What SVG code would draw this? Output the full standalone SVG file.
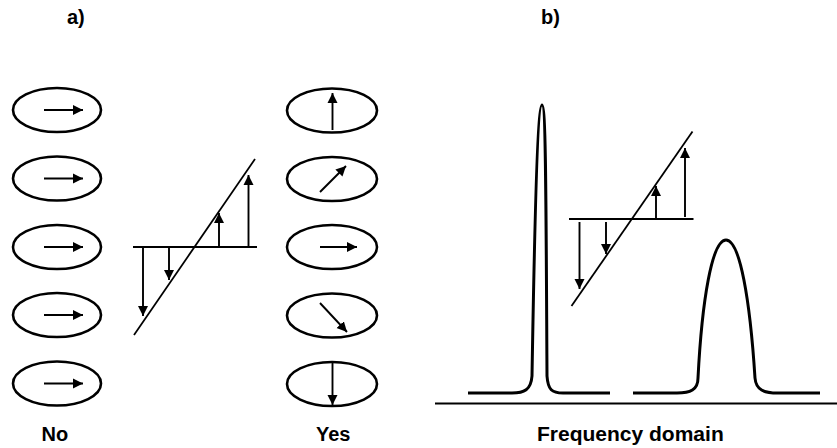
<svg xmlns="http://www.w3.org/2000/svg" width="837" height="448" viewBox="0 0 837 448">
<style>
.ell{fill:none;stroke:#000;stroke-width:2.6}
.vec{fill:none;stroke:#000;stroke-width:1.9}
.thin{fill:none;stroke:#000;stroke-width:1.8}
.peak{fill:none;stroke:#000;stroke-width:3;stroke-linejoin:round;stroke-linecap:butt}
.lbl{font-family:"Liberation Sans",Arial,sans-serif;font-weight:bold;font-size:20px;fill:#000}
</style>
<defs>
<marker id="ah" viewBox="0 0 10 10" refX="10" refY="5" markerWidth="10" markerHeight="11" markerUnits="userSpaceOnUse" orient="auto">
<path d="M0,0 L10,5 L0,10 z" fill="#000"/>
</marker>
</defs>
<rect width="837" height="448" fill="#fff"/>
<text class="lbl" x="67" y="24">a)</text>
<text class="lbl" x="541" y="24">b)</text>

<g id="no-spins">
<g id="no1"><ellipse class="ell" cx="57" cy="110" rx="44" ry="22"/><line class="vec" x1="44" y1="110" x2="83" y2="110" marker-end="url(#ah)"/></g>
<g id="no2"><ellipse class="ell" cx="57" cy="178.5" rx="44" ry="22"/><line class="vec" x1="44" y1="178.5" x2="83" y2="178.5" marker-end="url(#ah)"/></g>
<g id="no3"><ellipse class="ell" cx="57" cy="247" rx="44" ry="22"/><line class="vec" x1="44" y1="247" x2="83" y2="247" marker-end="url(#ah)"/></g>
<g id="no4"><ellipse class="ell" cx="57" cy="315" rx="44" ry="22"/><line class="vec" x1="44" y1="315" x2="83" y2="315" marker-end="url(#ah)"/></g>
<g id="no5"><ellipse class="ell" cx="57" cy="383.5" rx="44" ry="22"/><line class="vec" x1="44" y1="383.5" x2="83" y2="383.5" marker-end="url(#ah)"/></g>
</g>

<g id="gradient-a">
<line class="thin" x1="133" y1="247" x2="257" y2="247"/>
<line class="thin" x1="134" y1="335" x2="255" y2="159"/>
<line class="vec" x1="143" y1="247" x2="143" y2="316" marker-end="url(#ah)"/>
<line class="vec" x1="169" y1="247" x2="169" y2="280" marker-end="url(#ah)"/>
<line class="vec" x1="219" y1="247" x2="219" y2="213" marker-end="url(#ah)"/>
<line class="vec" x1="248.5" y1="247" x2="248.5" y2="175" marker-end="url(#ah)"/>
</g>

<g id="yes-spins">
<g id="yes1"><ellipse class="ell" cx="332" cy="110.5" rx="45" ry="22"/><line class="vec" x1="332.5" y1="130" x2="332.5" y2="93" marker-end="url(#ah)"/></g>
<g id="yes2"><ellipse class="ell" cx="332" cy="179" rx="45" ry="22"/><line class="vec" x1="320" y1="192" x2="346" y2="166" marker-end="url(#ah)"/></g>
<g id="yes3"><ellipse class="ell" cx="332" cy="247" rx="45" ry="22"/><line class="vec" x1="320" y1="247" x2="357" y2="247" marker-end="url(#ah)"/></g>
<g id="yes4"><ellipse class="ell" cx="332" cy="315.5" rx="45" ry="22"/><line class="vec" x1="320" y1="303" x2="347" y2="332" marker-end="url(#ah)"/></g>
<g id="yes5"><ellipse class="ell" cx="332" cy="384" rx="45" ry="22"/><line class="vec" x1="332.5" y1="362" x2="332.5" y2="405" marker-end="url(#ah)"/></g>
</g>

<g id="spectrum">
<line x1="435" y1="403.5" x2="837" y2="403.5" stroke="#000" stroke-width="1.8"/>
<path class="peak" d="M468,393 L512,393 C524,393 531,390 532,376 C535,200 538,105 542,105 C546,105 546,200 547,376 C548,390 552,393 563,393 L610,393"/>
<path class="peak" d="M633,393 L677,393 C690,393 698,390 698,378 C702,300 712,240 726,240 C740,240 750,300 755,378 C756,390 764,393 778,393 L820,393"/>
</g>

<g id="gradient-b">
<line class="thin" x1="569" y1="219" x2="693.5" y2="219"/>
<line class="thin" x1="571.5" y1="306" x2="692.5" y2="131.5"/>
<line class="vec" x1="579.5" y1="222" x2="579.5" y2="289" marker-end="url(#ah)"/>
<line class="vec" x1="606" y1="222" x2="606" y2="254" marker-end="url(#ah)"/>
<line class="vec" x1="656" y1="219" x2="656" y2="186" marker-end="url(#ah)"/>
<line class="vec" x1="685" y1="217" x2="685" y2="148" marker-end="url(#ah)"/>
</g>

<text class="lbl" x="41.5" y="441">No</text>
<text class="lbl" x="316" y="441">Yes</text>
<text class="lbl" x="537" y="441" style="font-size:21px">Frequency domain</text>
</svg>
